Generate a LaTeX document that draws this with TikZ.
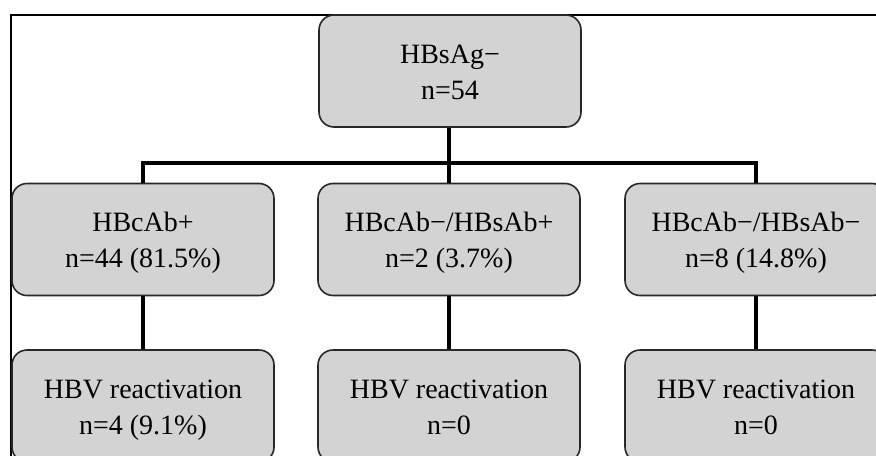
\documentclass[tikz,border=0pt]{standalone}
\usepackage{fontspec}
\setmainfont{Liberation Serif}
\definecolor{boxgray}{RGB}{211,211,211}
\definecolor{edgegray}{RGB}{40,40,40}
\begin{document}
\begin{tikzpicture}[x=0.5pt, y=-0.5pt,
        box/.style={draw=edgegray, line width=0.8pt, fill=boxgray, rounded corners=7.5pt,
            minimum width=131pt, minimum height=56pt, inner sep=0pt, align=center,
            text height=32pt, text depth=4pt, font=\fontsize{14}{18}\selectfont},
        link/.style={line width=2pt}]
        \useasboundingbox (0,0) rectangle (876,455);
        \clip (0,0) rectangle (876,455);

        % Frame
        \draw[line width=0.7pt] (11,15) rectangle (920,500);

        % Boxes
        \node[box] (hbsag) at (450,71) {HBsAg−\\n=54};
        \node[box] (cpos) at (143,239.5) {HBcAb+\\n=44 (81.5\%)};
        \node[box] (cnegspos) at (449,239.5) {HBcAb−/HBsAb+\\n=2 (3.7\%)};
        \node[box] (cnegsneg) at (756,239.5) {HBcAb−/HBsAb−\\n=8 (14.8\%)};
        \node[box] (react1) at (143,406) {HBV reactivation\\n=4 (9.1\%)};
        \node[box] (react2) at (449,406) {HBV reactivation\\n=0};
        \node[box] (react3) at (756,406) {HBV reactivation\\n=0};

        % Links
        \coordinate (bus) at (449,163);
        \draw[link] (hbsag.south -| bus) -- (bus) -- (cnegspos.north);
        \draw[link] (cpos.north) |- (bus) -| (cnegsneg.north);
        \draw[link] (cpos) -- (react1);
        \draw[link] (cnegspos) -- (react2);
        \draw[link] (cnegsneg) -- (react3);
\end{tikzpicture}
\end{document}
